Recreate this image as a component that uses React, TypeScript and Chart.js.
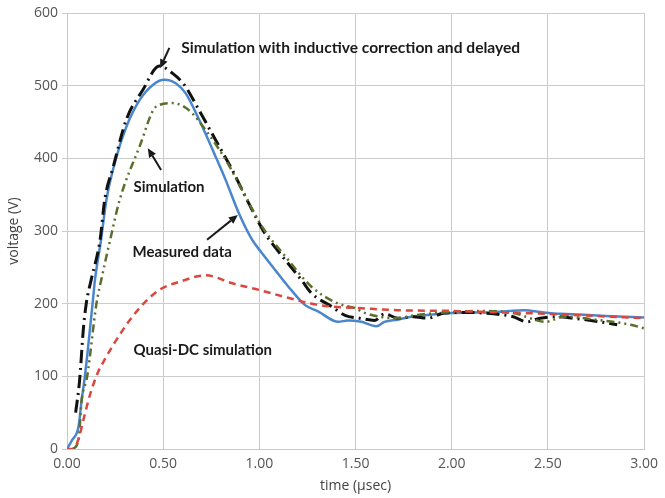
import React, { useEffect, useRef } from "react";
import { Chart, registerables } from "chart.js";

Chart.register(...registerables);

const xTicks = [0, 0.5, 1.0, 1.5, 2.0, 2.5, 3.0];

const measuredX = [0, 0.026, 0.06, 0.076, 0.093, 0.133, 0.145, 0.177, 0.205, 0.257, 0.308, 0.377, 0.446, 0.506, 0.567, 0.618, 0.687, 0.773, 0.825, 0.894, 0.962, 1.006, 1.083, 1.152, 1.238, 1.307, 1.41, 1.46, 1.53, 1.608, 1.65, 1.72, 1.79, 1.9, 1.995, 2.1, 2.2, 2.3, 2.374, 2.478, 2.57, 2.666, 2.8, 3.0];
const measuredY = [0, 12, 31, 67, 100, 200, 232, 288, 343, 402, 443, 480, 501, 508, 503, 489, 453, 402, 370, 324, 288, 272, 246, 223, 198, 189, 175, 177, 175, 169, 175, 178, 182, 185, 187, 188, 188, 190, 191, 188, 186, 185, 183, 181];

const quasiX = [0, 0.03, 0.06, 0.09, 0.12, 0.16, 0.2, 0.24, 0.325, 0.398, 0.48, 0.584, 0.721, 0.859, 0.997, 1.135, 1.273, 1.375, 1.513, 1.72, 2.0, 2.24, 2.5, 2.75, 3.0];
const quasiY = [0, 0, 14, 45, 75, 105, 125, 143, 177, 200, 219, 230, 239, 228, 219, 209, 200, 196, 194, 191, 190, 188, 186, 183, 180];

const simX = [0.03, 0.06, 0.076, 0.105, 0.153, 0.18, 0.222, 0.274, 0.377, 0.463, 0.549, 0.635, 0.72, 0.825, 0.911, 1.014, 1.135, 1.272, 1.41, 1.496, 1.55, 1.72, 1.806, 1.98, 2.15, 2.32, 2.49, 2.58, 2.75, 2.93, 3.0];
const simY = [0, 12, 67, 100, 200, 235, 285, 343, 416, 471, 476, 466, 439, 398, 356, 306, 265, 223, 200, 194, 187, 180, 184, 188, 190, 187, 175, 182, 178, 171, 166];

const indX = [0.045, 0.065, 0.085, 0.1, 0.125, 0.172, 0.196, 0.24, 0.308, 0.394, 0.48, 0.549, 0.61, 0.687, 0.773, 0.859, 0.945, 1.03, 1.066, 1.22, 1.272, 1.376, 1.445, 1.52, 1.6, 1.65, 1.72, 1.8, 1.875, 1.96, 2.1, 2.17, 2.25, 2.32, 2.39, 2.46, 2.55, 2.63, 2.77, 2.86];
const indY = [50, 93, 165, 200, 232, 288, 343, 388, 453, 494, 527, 517, 501, 466, 425, 384, 338, 296, 283, 232, 214, 196, 184, 180, 177, 186, 180, 182, 180, 187, 188, 187, 185, 182, 175, 180, 182, 180, 175, 171];

const labelTexts = [
  "Simulation with inductive correction and delayed",
  "Simulation",
  "Measured data",
  "Quasi-DC simulation",
];
const labelX = [0.594, 0.346, 0.341, 0.346];
const labelY = [552, 360, 271, 136];

const arrowFromX = [0.532, 0.489, 0.728];
const arrowFromY = [552, 384, 288];
const arrowToX = [0.484, 0.42, 0.888];
const arrowToY = [524, 414, 322];

const pts = (xs: number[], ys: number[]) => xs.map((x, i) => ({ x, y: ys[i] }));

const annotationPlugin = {
  id: "annotations",
  afterDatasetsDraw(chart: any) {
    const { ctx, scales } = chart;
    const xs = scales.x;
    const ys = scales.y;
    ctx.save();
    ctx.fillStyle = "#1a1a1a";
    ctx.strokeStyle = "#1a1a1a";
    ctx.textBaseline = "middle";
    ctx.textAlign = "left";
    labelTexts.forEach((t, i) => {
      ctx.font = i === 0 ? "bold 15.6px Lato" : "bold 15px Lato";
      ctx.fillText(t, xs.getPixelForValue(labelX[i]), ys.getPixelForValue(labelY[i]));
    });
    arrowFromX.forEach((_, i) => {
      const x1 = xs.getPixelForValue(arrowFromX[i]);
      const y1 = ys.getPixelForValue(arrowFromY[i]);
      const x2 = xs.getPixelForValue(arrowToX[i]);
      const y2 = ys.getPixelForValue(arrowToY[i]);
      const ang = Math.atan2(y2 - y1, x2 - x1);
      const hl = 9;
      const hw = 4;
      const bx = x2 - hl * Math.cos(ang);
      const by = y2 - hl * Math.sin(ang);
      ctx.lineWidth = 2;
      ctx.beginPath();
      ctx.moveTo(x1, y1);
      ctx.lineTo(bx, by);
      ctx.stroke();
      ctx.beginPath();
      ctx.moveTo(x2, y2);
      ctx.lineTo(bx + hw * Math.sin(ang), by - hw * Math.cos(ang));
      ctx.lineTo(bx - hw * Math.sin(ang), by + hw * Math.cos(ang));
      ctx.closePath();
      ctx.fill();
    });
    ctx.restore();
  },
};

export default function App() {
  const ref = useRef<HTMLCanvasElement | null>(null);
  useEffect(() => {
    if (!ref.current) return;
    const common = { pointRadius: 0, fill: false, tension: 0.35, cubicInterpolationMode: "monotone" as const };
    const chart = new Chart(ref.current, {
      type: "line",
      data: {
        datasets: [
          { label: "Quasi-DC simulation", data: pts(quasiX, quasiY), borderColor: "#d9473f", borderWidth: 2.5, borderDash: [7, 5], ...common },
          { label: "Simulation", data: pts(simX, simY), borderColor: "#5b6f2c", borderWidth: 2.5, borderDash: [8, 4, 2, 4, 2, 4], ...common },
          { label: "Simulation with inductive correction and delayed", data: pts(indX, indY), borderColor: "#111111", borderWidth: 3, borderDash: [13, 5, 2, 5], ...common },
          { label: "Measured data", data: pts(measuredX, measuredY), borderColor: "#4a86cc", borderWidth: 2.5, ...common },
        ],
      },
      options: {
        animation: false,
        responsive: true,
        maintainAspectRatio: false,
        layout: { padding: { top: 13, right: 17, left: 0, bottom: 0 } },
        plugins: { legend: { display: false }, tooltip: { enabled: false } },
        scales: {
          x: {
            type: "linear",
            min: 0,
            max: 3,
            afterBuildTicks: (s: any) => {
              s.ticks = xTicks.map((v) => ({ value: v }));
            },
            afterFit: (s: any) => {
              s.height = 49;
            },
            ticks: {
              font: { family: "Open Sans", size: 14 },
              color: "#555555",
              padding: 7,
              maxRotation: 0,
              callback: (v: any) => Number(v).toFixed(2),
            },
            grid: { color: "#cccccc", lineWidth: 1, drawTicks: false },
            border: { color: "#c8c8c8" },
            title: {
              display: true,
              text: "time (µsec)",
              font: { family: "Open Sans", size: 14 },
              color: "#444444",
              padding: { top: 0, bottom: 4 },
            },
          },
          y: {
            min: 0,
            max: 600,
            afterFit: (s: any) => {
              s.width = 67;
            },
            ticks: {
              stepSize: 100,
              font: { family: "Open Sans", size: 14 },
              color: "#555555",
              padding: 4,
            },
            grid: { color: "#cccccc", lineWidth: 1, tickLength: 5 },
            border: { color: "#c8c8c8" },
            title: {
              display: true,
              text: "voltage (V)",
              font: { family: "Open Sans", size: 14 },
              color: "#444444",
              padding: { top: 6, bottom: 0 },
            },
          },
        },
      },
      plugins: [annotationPlugin],
    });
    return () => chart.destroy();
  }, []);
  return (
    <div style={{ position: "fixed", left: 0, top: 0, width: 665, height: 498, background: "#fff" }}>
      <canvas ref={ref} />
    </div>
  );
}
